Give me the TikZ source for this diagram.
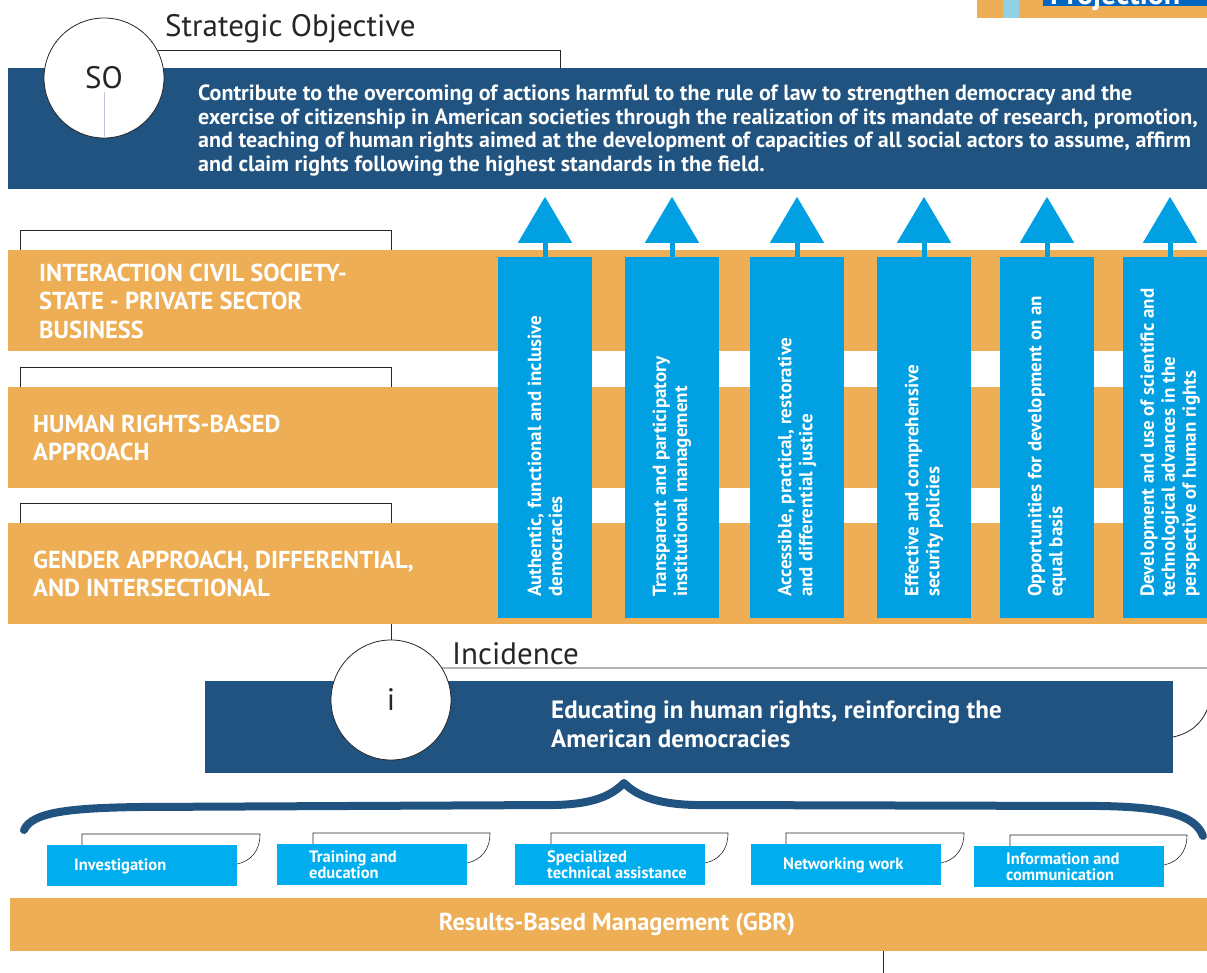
\documentclass[tikz,border=0pt]{standalone}
\usepackage{fontspec}
\setmainfont{PT Sans}
\usetikzlibrary{arrows.meta}
\definecolor{navy}{RGB}{33,83,128}
\definecolor{ochre}{RGB}{238,174,85}
\definecolor{cyanbar}{RGB}{0,160,226}
\definecolor{cyanbox}{RGB}{0,174,239}
\definecolor{projblue}{RGB}{0,102,192}
\definecolor{paleblue}{RGB}{143,210,228}
\tikzset{
  frame/.style={draw=black!85,line width=0.8pt},
  roundel/.style={circle,draw=black!85,line width=0.8pt,fill=white,minimum size=120pt,inner sep=0pt,text=black!85,font=\fontsize{31}{34}\selectfont},
  caption/.style={anchor=base west,inner sep=0pt,text=black!85,font=\fontsize{31}{34}\selectfont},
  navybar/.style={fill=navy,anchor=north west,inner sep=0pt},
  colbox/.style={fill=cyanbar,minimum width=94pt,minimum height=361pt,inner sep=0pt},
  smallbox/.style={fill=cyanbox,minimum width=190pt,minimum height=41pt,inner sep=0pt,anchor=north west},
  headtext/.style={anchor=north west,inner sep=0pt,align=left,text=white,font=\bfseries\fontsize{22}{23.5}\selectfont},
  bandtext/.style={anchor=west,inner sep=0pt,align=left,text=white,font=\bfseries\fontsize{24.5}{28.5}\selectfont},
  coltext/.style={anchor=west,rotate=90,inner sep=0pt,align=left,text=white,font=\bfseries\fontsize{19}{21}\selectfont},
  boxtext/.style={anchor=west,inner sep=0pt,align=left,text=white,font=\bfseries\fontsize{16.5}{16}\selectfont},
  uparrow/.style={draw=cyanbar,line width=5pt,-{Triangle[width=53pt,length=46pt]}}
}
\begin{document}
\begin{tikzpicture}[x=1pt,y=-1pt]
\useasboundingbox (0,0) rectangle (1207,973);

\fill[ochre] (977,0) rectangle (1207,18);
\fill[paleblue] (1003,0) rectangle (1019,18);
\begin{scope}
\clip (1043,0) rectangle (1207,18);
\fill[projblue] (1043,0) rectangle (1207,6);
\node[anchor=base west,inner sep=0pt,text=white,font=\bfseries\fontsize{30}{30}\selectfont] (proj) at (1050,5) {Projection};
\end{scope}

\node[navybar,minimum width=1199pt,minimum height=121pt] (sobar) at (8,68) {};
\node[headtext] (sotext) at (198,85) {Contribute to the overcoming of actions harmful to the rule of law to strengthen democracy and the\\
exercise of citizenship in American societies through the realization of its mandate of research, promotion,\\
and teaching of human rights aimed at the development of capacities of all social actors to assume, affirm\\
and claim rights following the highest standards in the field.};
\node[roundel] (so) at (104,78) {SO};
\draw[blue!20!gray!40,line width=0.5pt] (104,92) -- (so.south);
\node[caption] (sotitle) at (165,37) {Strategic Objective};
\draw[frame] (so.27) -| (560,68);

\foreach \by/\tx/\lbl [count=\k] in {250/39/{INTERACTION CIVIL SOCIETY-\\STATE - PRIVATE SECTOR\\BUSINESS},
  387/33/{HUMAN RIGHTS-BASED\\APPROACH},
  523/33/{GENDER APPROACH, DIFFERENTIAL,\\AND INTERSECTIONAL}}{
  \draw[frame] (20,\by) |- (391,\by-20) -- (391,\by);
  \fill[ochre] (8,\by) rectangle (1207,\by+101);
  \node[bandtext] (band\k) at (\tx,\by+51) {\lbl};
}

\foreach \cx/\lbl [count=\k] in {545/{Authentic, functional and inclusive\\democracies},
  672/{Transparent and participatory\\institutional management},
  797/{Accessible, practical, restorative\\and differential justice},
  924/{Effective and comprehensive\\security policies},
  1047/{Opportunities for development on an\\equal basis},
  1170/{Development and use of scientific and\\technological advances in the\\perspective of human rights}}{
  \node[colbox] (col\k) at (\cx,437.5) {};
  \draw[uparrow] (col\k.north) -- ++(0,-60);
  \node[coltext] (coltxt\k) at (\cx,597) {\lbl};
}

\node[navybar,minimum width=968pt,minimum height=92pt] (incbar) at (205,681) {};
\node[anchor=west,inner sep=0pt,align=left,text=white,font=\bfseries\fontsize{25}{29}\selectfont] (inctext) at (551,724) {Educating in human rights, reinforcing the\\American democracies};
\node[roundel] (inc) at (391,700) {i};
\node[caption] (inctitle) at (452,664) {Incidence};
\draw[frame] (inc.north) -- (391,624);
\draw[frame] (inc.32) -- (1207,668);
\draw[frame] (1173,737) .. controls (1192,733) and (1203,722) .. (1209,705);

\draw[navy,line width=8pt,line join=round,line cap=round] (24,830) .. controls (32,812) and (70,808) .. (140,807) -- (555,805) .. controls (595,804) and (612,795) .. (624,783) .. controls (636,795) and (655,804) .. (695,805) -- (1100,806) .. controls (1165,807) and (1195,815) .. (1203,836);

\foreach \bx/\by/\ox/\tx/\lbl [count=\k] in {47/845/82/74/Investigation,
  277/844/313/309/{Training and\\education},
  515/844/551/547/{Specialized\\technical assistance},
  751/844/786/783/Networking work,
  974/846/1010/1006/{Information and\\communication}}{
  \draw[frame,line width=0.6pt] (\ox,\by) -- (\ox,\by-11) -- (\bx+213,\by-11) .. controls (\bx+213,\by+6) and (\bx+204,\by+16) .. (\bx+190,\by+19);
  \node[smallbox] (act\k) at (\bx,\by) {};
  \node[boxtext] (actlbl\k) at (\tx,\by+21) {\lbl};
}

\node[fill=ochre,anchor=north west,minimum width=1197pt,minimum height=53pt,inner sep=0pt] (gbr) at (10,898) {};
\node[text=white,font=\bfseries\fontsize{24.5}{26}\selectfont,inner sep=0pt] (gbrtext) at (617,924) {Results-Based Management (GBR)};
\draw[frame] (883,951) -- (883,973);
\end{tikzpicture}
\end{document}
